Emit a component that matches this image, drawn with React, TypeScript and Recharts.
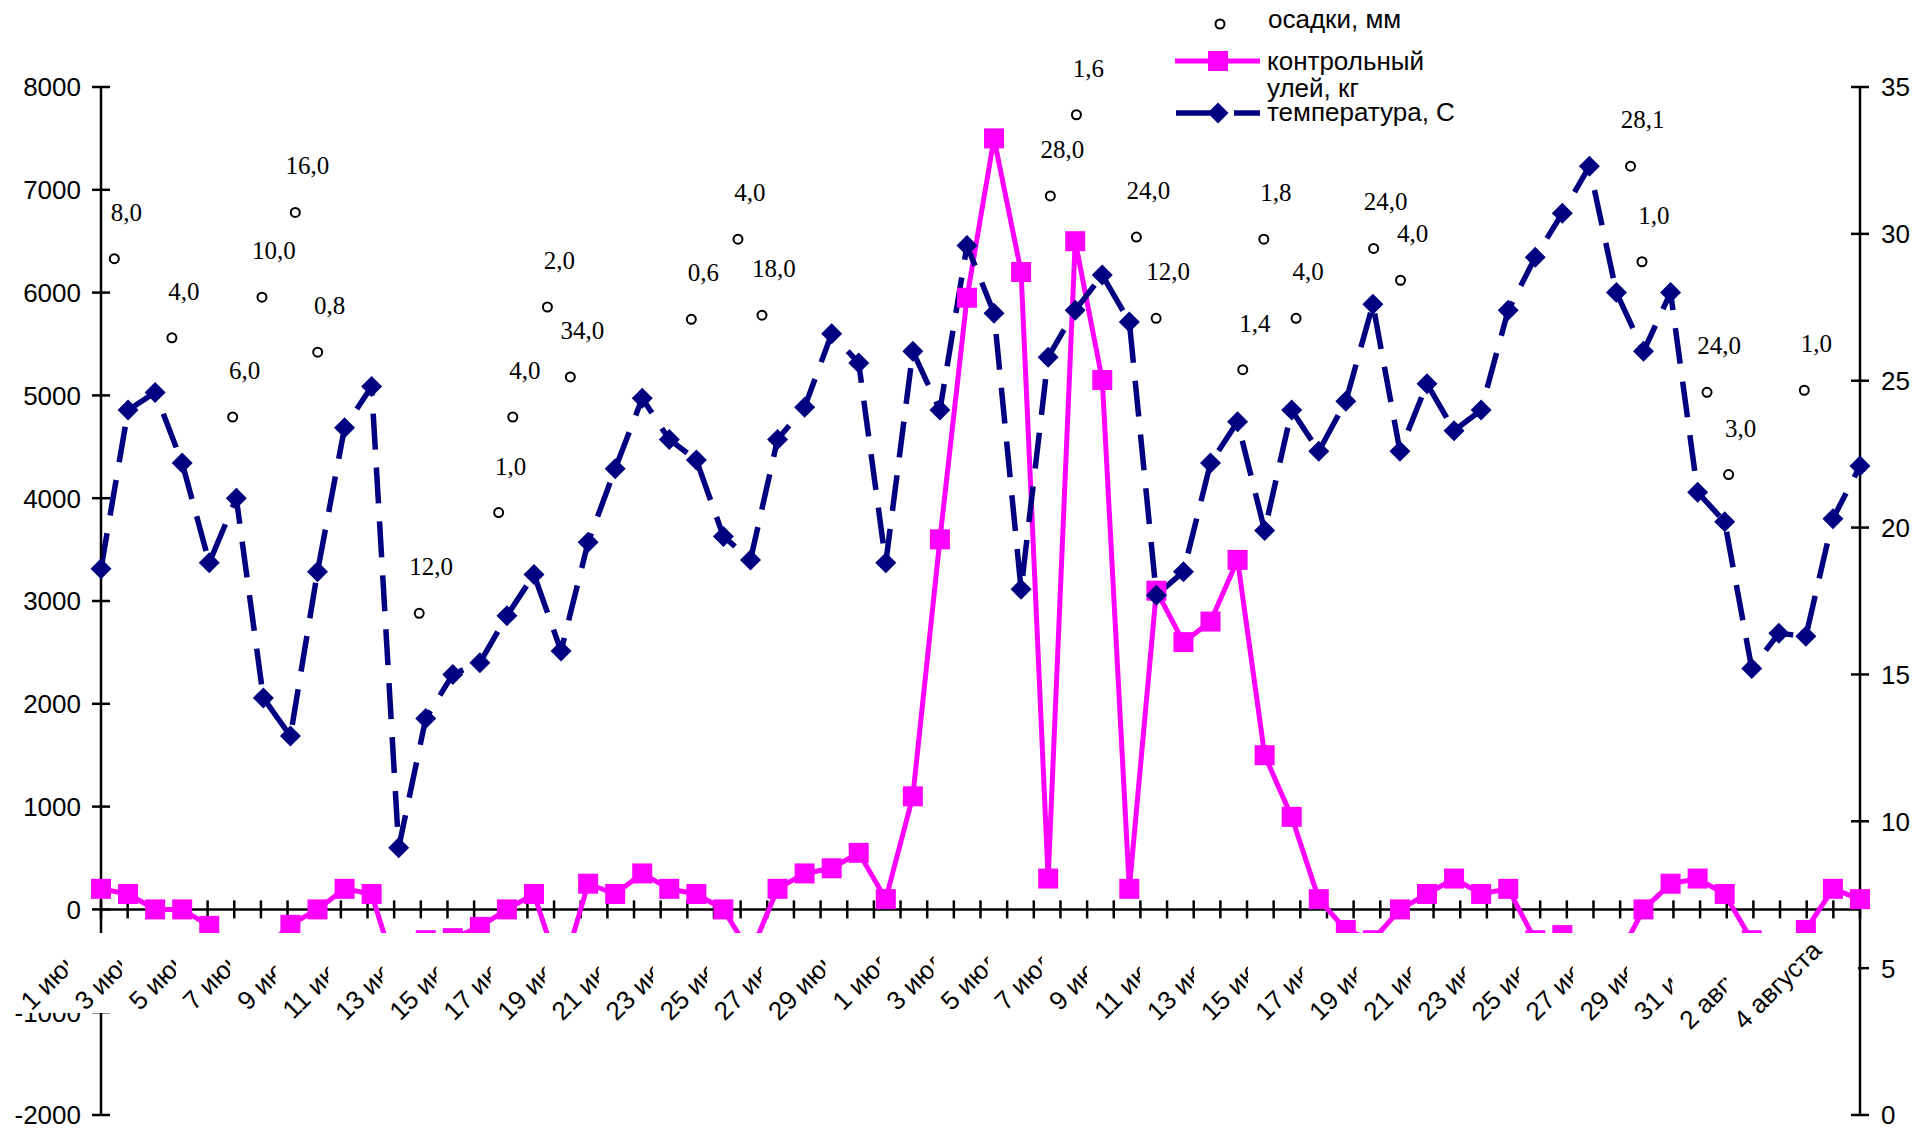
import React from 'react'
import { ComposedChart, Line, Scatter, XAxis, YAxis, CartesianGrid } from 'recharts'

// 1 июня – 5 августа
const days = [
  '1 июня', '2 июня', '3 июня', '4 июня', '5 июня', '6 июня', '7 июня', '8 июня', '9 июня', '10 июня',
  '11 июня', '12 июня', '13 июня', '14 июня', '15 июня', '16 июня', '17 июня', '18 июня', '19 июня', '20 июня',
  '21 июня', '22 июня', '23 июня', '24 июня', '25 июня', '26 июня', '27 июня', '28 июня', '29 июня', '30 июня',
  '1 июля', '2 июля', '3 июля', '4 июля', '5 июля', '6 июля', '7 июля', '8 июля', '9 июля', '10 июля',
  '11 июля', '12 июля', '13 июля', '14 июля', '15 июля', '16 июля', '17 июля', '18 июля', '19 июля', '20 июля',
  '21 июля', '22 июля', '23 июля', '24 июля', '25 июля', '26 июля', '27 июля', '28 июля', '29 июля', '30 июля',
  '31 июля', '1 августа', '2 августа', '3 августа', '4 августа', '5 августа',
]

// контрольный улей, кг (left axis)
const hive = [
  200, 150, 0, 0, -160, -450, -400, -150, 0, 200,
  150, -700, -300, -280, -170, 0, 150, -650, 250, 150,
  350, 200, 150, 0, -430, 200, 350, 400, 550, 100,
  1100, 3600, 5950, 7500, 6200, 300, 6500, 5150, 200, 3100,
  2600, 2800, 3400, 1500, 900, 100, -200, -300, 0, 150,
  300, 150, 200, -300, -250, -450, -500, 0, 250, 300,
  150, -300, -450, -200, 200, 100,
]

// температура, С (right axis)
const temp = [
  18.6, 24.0, 24.6, 22.2, 18.8, 21.0, 14.2, 12.9, 18.5, 23.4,
  24.8, 9.1, 13.5, 15.0, 15.4, 17.0, 18.4, 15.8, 19.5, 22.0,
  24.4, 23.0, 22.3, 19.7, 18.9, 23.0, 24.1, 26.6, 25.6, 18.8,
  26.0, 24.0, 29.6, 27.3, 17.9, 25.8, 27.4, 28.6, 27.0, 17.7,
  18.5, 22.2, 23.6, 19.9, 24.0, 22.6, 24.3, 27.6, 22.6, 24.9,
  23.3, 24.0, 27.4, 29.2, 30.7, 32.3, 28.0, 26.0, 28.0, 21.2,
  20.2, 15.2, 16.4, 16.3, 20.3, 22.1,
]

// осадки, мм: position along the day axis, marker height, amount
const rainPos = [
  0.5, 2.66, 4.94, 6.04, 7.29, 8.13, 11.94, 14.92, 15.45, 16.75,
  17.61, 22.15, 23.9, 24.8, 35.62, 36.6, 38.85, 39.59, 42.84, 43.63,
  44.84, 47.75, 48.76, 57.39, 57.82, 60.26, 61.07, 63.91,
]
const rainLevel = [
  6330, 5560, 4790, 5955, 6780, 5420, 2880, 3860, 4790, 5860,
  5180, 5740, 6520, 5780, 6940, 7730, 6540, 5750, 5250, 6520,
  5750, 6430, 6120, 7230, 6300, 5030, 4230, 5050,
]
const rainLabel = [
  '8,0', '4,0', '6,0', '10,0', '16,0', '0,8', '12,0', '1,0', '4,0', '2,0',
  '34,0', '0,6', '4,0', '18,0', '28,0', '1,6', '24,0', '12,0', '1,4', '1,8',
  '4,0', '24,0', '4,0', '28,1', '1,0', '24,0', '3,0', '1,0',
]

const leftTicks = [-2000, -1000, 0, 1000, 2000, 3000, 4000, 5000, 6000, 7000, 8000]
const rightTicks = [0, 5, 10, 15, 20, 25, 30, 35]

const rows = days.map((day, i) => ({ day, hive: hive[i], temp: temp[i] }))
const rain = rainPos.map((pos, i) => ({ pos, level: rainLevel[i], label: rainLabel[i] }))

const W = 1917
const H = 1128
const TOP = 87
const BOTTOM = 12
const LEFT_W = 101
const RIGHT_W = 57
const PLOT_W = W - LEFT_W - RIGHT_W

const NAVY = '#000080'
const MAGENTA = '#FF00FF'
const SANS = '"Liberation Sans", Arial, sans-serif'
const SERIF = '"Liberation Serif", "Times New Roman", serif'
const FS = 26

// band of the category labels, painted white over the plot
const BOX_TOP = 933
const BOX_BOTTOM = 1013
const LABEL_Y = 952
const LABEL_DX = -10

const ctx = document.createElement('canvas').getContext('2d')
if (ctx) ctx.font = `${FS}px "Liberation Sans", Arial`
const textWidth = (s: string) => (ctx ? ctx.measureText(s).width : s.length * FS * 0.55)

function LeftTick({ x, y, payload }: any) {
  return (
    <g>
      <line x1={x - 9} x2={x + 9} y1={y} y2={y} stroke="#000" strokeWidth={2.5} />
      <text x={x - 20} y={y} dy="0.36em" textAnchor="end" fontFamily={SANS} fontSize={FS} fill="#000">
        {payload.value}
      </text>
    </g>
  )
}

function RightTick({ x, y, payload }: any) {
  return (
    <g>
      <line x1={x - 9} x2={x + 9} y1={y} y2={y} stroke="#000" strokeWidth={2.5} />
      <text x={x + 21} y={y} dy="0.36em" textAnchor="start" fontFamily={SANS} fontSize={FS} fill="#000">
        {payload.value}
      </text>
    </g>
  )
}

// every second day is labelled; a label is cut where the next one starts
function DayTick({ x, index, payload }: any) {
  if (index % 2 !== 0) return <g />
  const bw = PLOT_W / days.length
  const ax = x + LABEL_DX
  const next = index + 2
  const clipX = next < days.length
    ? ax + 2 * bw - textWidth(days[next]) * Math.SQRT1_2 - 17
    : null
  const id = `day-clip-${index}`
  return (
    <g>
      {index === 0 && (
        <rect x={15} y={BOX_TOP} width={1843} height={BOX_BOTTOM - BOX_TOP} fill="#fff" />
      )}
      {clipX !== null && (
        <clipPath id={id}>
          <rect x={0} y={0} width={clipX} height={H} />
        </clipPath>
      )}
      <g clipPath={clipX !== null ? `url(#${id})` : undefined}>
        <text
          x={ax}
          y={LABEL_Y}
          textAnchor="end"
          transform={`rotate(-45 ${ax} ${LABEL_Y})`}
          fontFamily={SANS}
          fontSize={FS}
          fill="#000"
        >
          {payload.value}
        </text>
      </g>
    </g>
  )
}

// category axis drawn at zero, with tick marks between the days
function ZeroAxis(props: any) {
  const { x1, x2, y1 } = props
  const n = days.length
  const step = (x2 - x1) / n
  return (
    <g>
      <line x1={x1} x2={x2} y1={y1} y2={y1} stroke="#000" strokeWidth={2.5} />
      {Array.from({ length: n + 1 }, (_, k) => (
        <line key={k} x1={x1 + k * step} x2={x1 + k * step} y1={y1 - 9} y2={y1 + 9} stroke="#000" strokeWidth={2.5} />
      ))}
    </g>
  )
}

function Square(props: any) {
  const { cx, cy, index } = props
  if (cx == null || cy == null) return <g key={`s-${index}`} />
  return <rect key={`s-${index}`} x={cx - 10} y={cy - 10} width={20} height={20} fill={MAGENTA} />
}

function Diamond(props: any) {
  const { cx, cy, index } = props
  if (cx == null || cy == null) return <g key={`d-${index}`} />
  const r = 10.5
  return (
    <polygon
      key={`d-${index}`}
      points={`${cx},${cy - r} ${cx + r},${cy} ${cx},${cy + r} ${cx - r},${cy}`}
      fill={NAVY}
    />
  )
}

function RainMark(props: any) {
  const { cx, cy, payload } = props
  return (
    <g>
      <circle cx={cx} cy={cy} r={4.5} fill="#fff" stroke="#000" strokeWidth={2} />
      <text x={cx + 12} y={cy - 38} textAnchor="middle" fontFamily={SERIF} fontSize={25} fill="#000">
        {payload.label}
      </text>
    </g>
  )
}

function LegendBox() {
  return (
    <svg width={W} height={140} style={{ position: 'absolute', left: 0, top: 0, pointerEvents: 'none' }}>
      <circle cx={1220} cy={24} r={4.5} fill="#fff" stroke="#000" strokeWidth={2} />
      <text x={1268} y={28} fontFamily={SANS} fontSize={FS} fill="#000">осадки, мм</text>

      <line x1={1175} x2={1260} y1={61} y2={61} stroke={MAGENTA} strokeWidth={5} />
      <rect x={1208} y={51} width={20} height={20} fill={MAGENTA} />
      <text x={1267} y={70} fontFamily={SANS} fontSize={FS} fill="#000">контрольный</text>
      <text x={1267} y={97} fontFamily={SANS} fontSize={FS} fill="#000">улей, кг</text>

      <line x1={1176} x2={1224} y1={113} y2={113} stroke={NAVY} strokeWidth={5.5} />
      <line x1={1234} x2={1260} y1={113} y2={113} stroke={NAVY} strokeWidth={5.5} />
      <polygon points="1218,102.5 1228.5,113 1218,123.5 1207.5,113" fill={NAVY} />
      <text x={1267} y={121} fontFamily={SANS} fontSize={FS} fill="#000">температура, С</text>
    </svg>
  )
}

export default function App() {
  return (
    <div style={{ position: 'absolute', left: 0, top: 0, width: W, height: H, background: '#fff' }}>
      <ComposedChart
        width={W}
        height={H}
        data={rows}
        margin={{ top: TOP, right: 0, bottom: BOTTOM, left: 0 }}
      >
        <CartesianGrid
          xAxisId="cat"
          yAxisId="left"
          vertical={false}
          horizontalValues={[0]}
          horizontal={(p: any) => <ZeroAxis key="zero" {...p} />}
          stroke="#000"
          fill="none"
        />
        <Line
          xAxisId="cat"
          yAxisId="left"
          dataKey="hive"
          type="linear"
          stroke={MAGENTA}
          strokeWidth={5}
          dot={(p: any) => <Square key={`s-${p.index}`} {...p} />}
          activeDot={false}
          isAnimationActive={false}
        />
        <Line
          xAxisId="cat"
          yAxisId="right"
          dataKey="temp"
          type="linear"
          stroke={NAVY}
          strokeWidth={5.5}
          strokeDasharray="36 18"
          dot={(p: any) => <Diamond key={`d-${p.index}`} {...p} />}
          activeDot={false}
          isAnimationActive={false}
        />
        <Scatter
          xAxisId="rain"
          yAxisId="left"
          data={rain}
          dataKey="level"
          shape={(p: any) => <RainMark {...p} />}
          isAnimationActive={false}
        />
        <YAxis
          yAxisId="left"
          orientation="left"
          width={LEFT_W}
          domain={[-2000, 8000]}
          ticks={leftTicks}
          interval={0}
          axisLine={{ stroke: '#000', strokeWidth: 2.5 }}
          tickLine={false}
          tickSize={0}
          tickMargin={0}
          tick={(p: any) => <LeftTick {...p} />}
        />
        <YAxis
          yAxisId="right"
          orientation="right"
          width={RIGHT_W}
          domain={[0, 35]}
          ticks={rightTicks}
          interval={0}
          axisLine={{ stroke: '#000', strokeWidth: 2.5 }}
          tickLine={false}
          tickSize={0}
          tickMargin={0}
          tick={(p: any) => <RightTick {...p} />}
        />
        <XAxis
          xAxisId="rain"
          type="number"
          dataKey="pos"
          domain={[0, days.length]}
          allowDataOverflow
          hide
        />
        <XAxis
          xAxisId="cat"
          dataKey="day"
          height={1}
          interval={0}
          axisLine={false}
          tickLine={false}
          tickSize={0}
          tickMargin={0}
          tick={(p: any) => <DayTick {...p} />}
        />
      </ComposedChart>
      <LegendBox />
    </div>
  )
}
